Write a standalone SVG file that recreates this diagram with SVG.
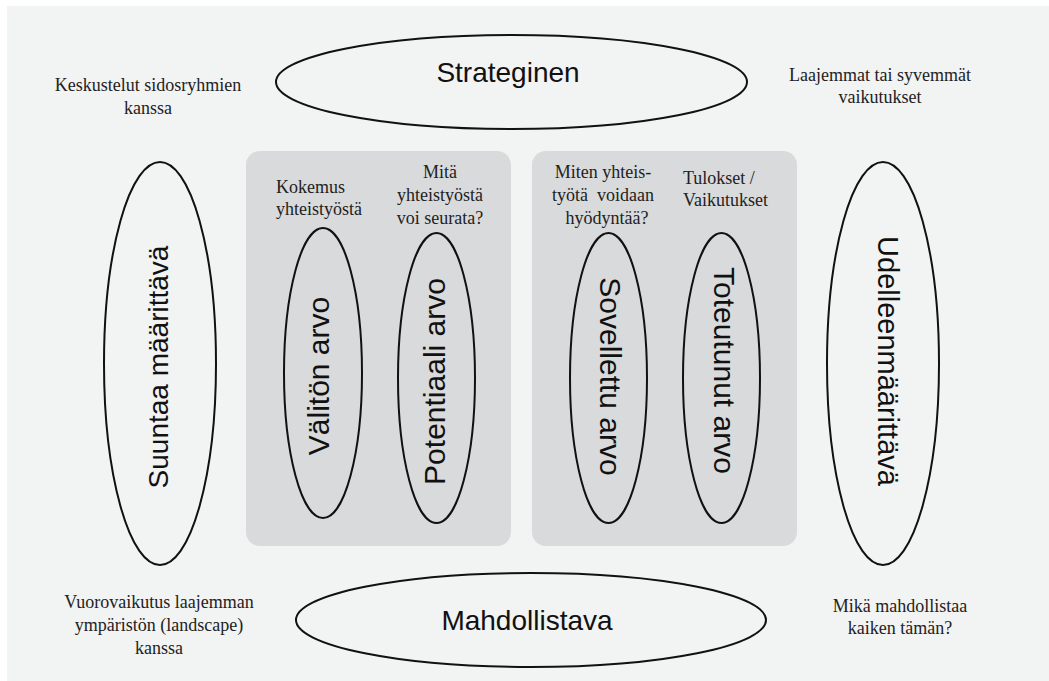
<svg xmlns="http://www.w3.org/2000/svg" width="1049" height="681" viewBox="0 0 1049 681">
<style>
.bg{fill:#f2f3f3}
.box{fill:#d9dadb}
.ell{fill:none;stroke:#111;stroke-width:2}
.sans{font-family:"Liberation Sans",Arial,sans-serif;fill:#111;text-anchor:middle}
.serif{font-family:"Liberation Serif","Times New Roman",serif;font-size:18px;fill:#222}
.c{text-anchor:middle}
</style>
<rect width="1049" height="681" fill="#ffffff"/>
<rect class="bg" x="7" y="6" width="1042" height="675"/>
<g id="connectors"/>
<g id="box-left"><rect class="box" x="246" y="151" width="265" height="395" rx="14"/></g>
<g id="box-right"><rect class="box" x="532" y="151" width="265" height="395" rx="14"/></g>
<g id="strateginen">
<ellipse class="ell" cx="511.5" cy="82" rx="235.5" ry="47"/>
<text class="sans" x="508" y="82" font-size="28">Strateginen</text>
</g>
<g id="mahdollistava">
<ellipse class="ell" cx="531" cy="620" rx="235" ry="47"/>
<text class="sans" x="527" y="630" font-size="28">Mahdollistava</text>
</g>
<g id="suuntaa">
<ellipse class="ell" cx="160" cy="363.5" rx="56" ry="201.5"/>
<text class="sans" font-size="28" transform="translate(158 367) rotate(-90)" dy="0.35em">Suuntaa määrittävä</text>
</g>
<g id="udelleen">
<ellipse class="ell" cx="883" cy="363.5" rx="56" ry="201.5"/>
<text class="sans" font-size="29" transform="translate(888 361) rotate(90)" dy="0.35em">Udelleenmäärittävä</text>
</g>
<g id="valiton">
<ellipse class="ell" cx="323" cy="373" rx="39" ry="145"/>
<text class="sans" font-size="30" transform="translate(318 376) rotate(-90)" dy="0.35em">Välitön arvo</text>
</g>
<g id="potentiaali">
<ellipse class="ell" cx="436.5" cy="378" rx="38.5" ry="145"/>
<text class="sans" font-size="30" transform="translate(434.5 381.5) rotate(-90)" dy="0.35em">Potentiaali arvo</text>
</g>
<g id="sovellettu">
<ellipse class="ell" cx="608.5" cy="378" rx="38.5" ry="145"/>
<text class="sans" font-size="30" transform="translate(610 376.5) rotate(90)" dy="0.35em">Sovellettu arvo</text>
</g>
<g id="toteutunut">
<ellipse class="ell" cx="721.5" cy="378" rx="38.5" ry="145"/>
<text class="sans" font-size="30" transform="translate(724 370.5) rotate(90)" dy="0.35em">Toteutunut arvo</text>
</g>
<g id="label-keskustelut">
<text class="serif c" x="148" y="91">Keskustelut sidosryhmien</text>
<text class="serif c" x="148" y="114">kanssa</text>
</g>
<g id="label-laajemmat">
<text class="serif c" x="880" y="81">Laajemmat tai syvemmät</text>
<text class="serif c" x="880" y="103">vaikutukset</text>
</g>
<g id="label-kokemus">
<text class="serif" x="276" y="193">Kokemus</text>
<text class="serif" x="276" y="215">yhteistyöstä</text>
</g>
<g id="label-mita">
<text class="serif c" x="440" y="178">Mitä</text>
<text class="serif c" x="440" y="201">yhteistyöstä</text>
<text class="serif c" x="440" y="224">voi seurata?</text>
</g>
<g id="label-miten">
<text class="serif c" x="603" y="178">Miten yhteis-</text>
<text class="serif c" x="603" y="201" xml:space="preserve">työtä  voidaan</text>
<text class="serif c" x="607" y="224">hyödyntää?</text>
</g>
<g id="label-tulokset">
<text class="serif" x="683" y="184">Tulokset /</text>
<text class="serif" x="683" y="206">Vaikutukset</text>
</g>
<g id="label-vuorovaikutus">
<text class="serif c" x="159" y="608">Vuorovaikutus laajemman</text>
<text class="serif c" x="159" y="631">ympäristön (landscape)</text>
<text class="serif c" x="159" y="654">kanssa</text>
</g>
<g id="label-mika">
<text class="serif c" x="900" y="612">Mikä mahdollistaa</text>
<text class="serif c" x="900" y="634">kaiken tämän?</text>
</g>
</svg>
